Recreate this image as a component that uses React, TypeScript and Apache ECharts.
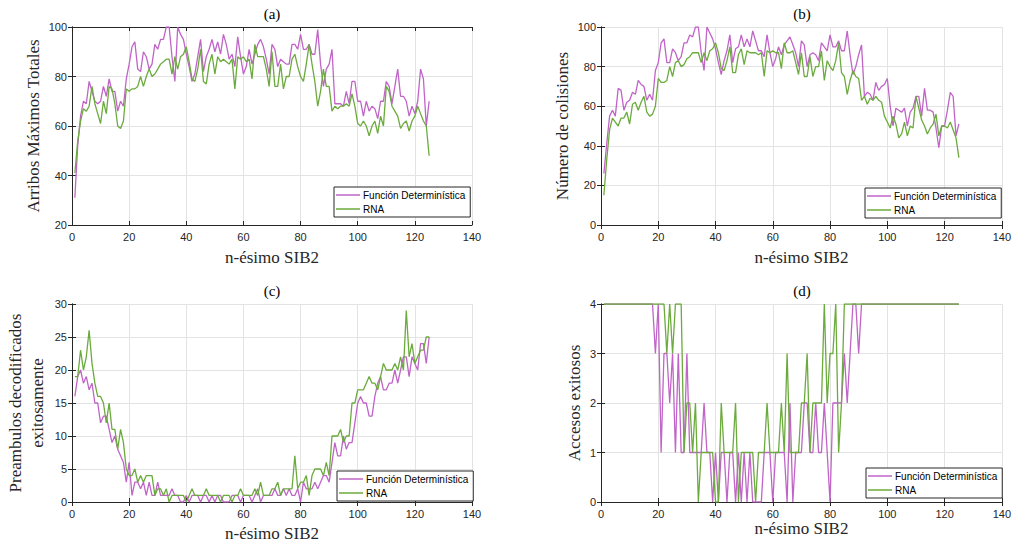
import React, { useEffect, useRef } from "react";
import * as echarts from "echarts";

// Sample index (n-ésimo SIB2)
const SAMPLES: number[] = Array.from({ length: 125 }, (_, i) => i + 1);

// (a) Arribos Máximos Totales
const A_DET = [31,52,64,70,69,78,74,70,69,70,76,72,79,74,74,66,70,68,79,85,92,94,83,82,90,88,83,85,93,91,95,95,100,100,88,78,100,97,95,89,84,78,81,88,95,82,88,91,95,90,94,89,97,93,87,89,84,96,88,81,84,91,85,89,93,95,92,87,81,93,91,84,87,86,85,85,93,93,91,97,91,91,93,89,89,99,85,76,83,85,91,69,69,69,68,74,69,78,78,70,70,64,70,66,68,67,63,70,70,78,76,69,76,83,72,72,70,64,68,65,70,83,79,60,70];
const A_RNA = [41,54,62,67,66,68,76,69,65,61,70,65,76,75,69,60,59,62,75,74,75,75,76,80,76,80,83,80,81,83,85,86,87,87,81,88,83,88,89,92,86,79,78,83,91,78,77,85,89,81,88,86,87,86,85,87,75,88,87,88,86,87,79,93,88,88,88,83,76,90,76,76,85,75,80,80,87,89,84,80,78,85,93,85,78,68,74,83,76,76,66,68,67,68,68,69,68,73,68,61,60,62,60,56,60,62,57,64,60,76,74,68,66,64,59,61,62,58,62,64,68,65,62,60,48];

// (b) Número de colisiones
const B_DET = [26,41,55,58,55,69,68,58,62,63,67,66,73,71,70,63,66,63,78,82,92,94,82,82,89,87,83,85,92,92,96,95,100,100,87,78,100,97,94,89,82,76,83,88,96,82,89,90,96,90,94,90,98,93,88,88,85,96,87,80,84,90,86,91,93,95,91,87,80,93,91,80,86,87,86,83,92,90,88,96,90,90,93,88,88,98,86,76,80,86,91,65,67,66,63,72,68,70,71,74,60,50,59,58,57,59,50,57,59,65,65,55,69,58,58,57,49,39,50,50,58,67,65,45,51];
const B_RNA = [15,33,48,54,52,50,54,54,57,51,61,62,58,62,65,57,55,56,60,74,72,72,73,80,75,82,83,80,81,84,85,87,87,87,82,87,83,88,89,92,87,79,78,83,90,77,77,86,89,81,88,87,87,87,86,87,75,88,87,88,87,87,79,92,87,87,88,82,76,87,75,75,85,75,80,80,88,73,83,80,78,83,92,77,75,66,73,78,75,74,63,65,61,64,63,65,63,62,55,52,49,55,51,44,46,52,45,50,49,65,59,53,50,46,49,51,56,45,50,50,49,52,48,44,34];

// (c) Preambulos decodificados exitosamente
const C_DET = [16,19,20,18,19,17,18,15,15,12,13,13,11,9,10,8,7,6,3,6,1,3,3,2,3,1,3,1,1,3,1,1,1,1,2,1,1,0,0,1,0,1,1,1,0,1,1,0,1,0,1,1,0,0,0,1,1,1,0,1,1,1,0,1,2,0,1,1,1,1,2,1,1,2,1,2,1,1,2,0,3,2,2,2,3,2,3,4,4,3,6,9,7,7,10,8,9,9,12,15,16,15,15,13,13,16,18,19,17,17,18,18,20,18,20,22,22,19,22,21,20,24,24,21,25];
const C_RNA = [19,19,23,20,22,26,21,18,16,16,15,12,15,11,11,8,11,9,5,4,4,5,3,4,3,4,4,4,1,2,2,1,2,0,1,1,1,1,1,0,1,2,1,1,1,1,2,1,1,1,1,0,1,1,1,0,1,1,2,1,1,1,1,2,1,3,1,1,1,2,2,3,1,2,2,2,2,7,2,3,3,4,1,4,5,5,5,4,6,4,10,10,10,11,9,10,10,15,15,17,17,17,18,19,18,18,17,19,21,20,20,20,21,20,22,20,29,22,24,21,22,23,23,25,25];

// (d) Accesos exitosos
const D_DET = [4,4,4,4,4,4,4,4,4,4,4,4,4,4,4,4,4,4,3,4,1,3,3,2,3,1,3,1,1,3,1,1,1,1,1,2,1,1,0,1,0,1,1,0,1,1,0,1,0,1,0,1,0,0,0,0,1,1,1,0,1,1,1,1,0,2,0,1,1,1,2,2,1,1,2,1,1,2,1,0,2,2,2,2,3,2,3,4,4,3,4,4,4,4,4,4,4,4,4,4,4,4,4,4,4,4,4,4,4,4,4,4,4,4,4,4,4,4,4,4,4,4,4,4,4];
const D_RNA = [4,4,4,4,4,4,4,4,4,4,4,4,4,4,4,4,4,4,4,4,4,4,3,4,3,4,4,4,1,2,2,1,2,0,1,1,1,1,1,0,0,2,1,1,1,1,2,0,1,1,1,1,1,0,1,1,1,2,1,1,1,1,2,1,3,1,1,1,1,2,2,3,1,2,2,2,2,4,2,3,3,4,1,2,4,4,4,4,4,4,4,4,4,4,4,4,4,4,4,4,4,4,4,4,4,4,4,4,4,4,4,4,4,4,4,4,4,4,4,4,4,4,4,4,4];

const X_TICKS = { min: 0, max: 140, interval: 20 };
const SERIES_NAMES = ["Función Determinística", "RNA"];
const PANEL_TITLES = ["(a)", "(b)", "(c)", "(d)"];
const Y_NAMES = [
  "Arribos Máximos Totales",
  "Número de colisiones",
  "Preambulos decodificados\nexitosamente",
  "Accesos exitosos",
];
const X_NAME = "n-ésimo SIB2";
const Y_RANGES = [
  { min: 20, max: 100, interval: 20 },
  { min: 0, max: 100, interval: 20 },
  { min: 0, max: 30, interval: 5 },
  { min: 0, max: 4, interval: 1 },
];

const PURPLE = "#C064C8";
const GREEN = "#6BAA3C";
const AXIS = "#262626";
const SANS = "'Liberation Sans', Arial, sans-serif";
const SERIF = "'Liberation Serif', 'Times New Roman', serif";

const GRIDS = [
  { left: 72, top: 27, width: 400, height: 198 },
  { left: 601, top: 27, width: 402, height: 198 },
  { left: 72, top: 304, width: 400, height: 198 },
  { left: 601, top: 304, width: 402, height: 198 },
];
const Y_NAME_GAPS = [28, 16, 24, 13];
const X_NAME_GAPS = [24, 24, 23, 18];
const LEGEND_POS = [
  { left: 334, top: 187 },
  { left: 865, top: 188 },
  { left: 337, top: 471 },
  { left: 866, top: 468 },
];

const pairs = (vals: number[]) => SAMPLES.map((x, i) => [x, vals[i]]);

export default function App() {
  const ref = useRef<HTMLDivElement>(null);

  useEffect(() => {
    if (!ref.current) return;
    const chart = echarts.init(ref.current, undefined, { renderer: "svg" });

    const panels = [
      [A_DET, A_RNA],
      [B_DET, B_RNA],
      [C_DET, C_RNA],
      [D_DET, D_RNA],
    ];

    const xAxis: any[] = [];
    const yAxis: any[] = [];
    const series: any[] = [];
    const legend: any[] = [];
    const graphic: any[] = [];

    GRIDS.forEach((g, k) => {
      // bottom / left axes with labels
      xAxis.push({
        type: "value",
        gridIndex: k,
        ...X_TICKS,
        position: "bottom",
        name: X_NAME,
        nameLocation: "middle",
        nameGap: X_NAME_GAPS[k],
        nameTextStyle: { fontFamily: SERIF, fontSize: 17, color: AXIS },
        axisLine: { show: true, lineStyle: { color: AXIS, width: 1 } },
        axisTick: { show: true, inside: true, length: 4, lineStyle: { color: AXIS } },
        axisLabel: { fontFamily: SANS, fontSize: 11, color: AXIS, margin: 6 },
        splitLine: { show: true, lineStyle: { color: "#E3E3E3", width: 1 } },
      });
      yAxis.push({
        type: "value",
        gridIndex: k,
        ...Y_RANGES[k],
        position: "left",
        name: Y_NAMES[k],
        nameLocation: "middle",
        nameRotate: 90,
        nameGap: Y_NAME_GAPS[k],
        nameTextStyle: { fontFamily: SERIF, fontSize: 17, color: AXIS, lineHeight: 22 },
        axisLine: { show: true, lineStyle: { color: AXIS, width: 1 } },
        axisTick: { show: true, inside: true, length: 4, lineStyle: { color: AXIS } },
        axisLabel: { fontFamily: SANS, fontSize: 11, color: AXIS, margin: 5 },
        splitLine: { show: true, lineStyle: { color: "#E3E3E3", width: 1 } },
      });
    });

    // top / right axes closing the box
    GRIDS.forEach((_, k) => {
      xAxis.push({
        type: "value",
        gridIndex: k,
        ...X_TICKS,
        position: "top",
        axisLine: { show: true, lineStyle: { color: AXIS, width: 1 } },
        axisTick: { show: true, inside: true, length: 4, lineStyle: { color: AXIS } },
        axisLabel: { show: false },
        splitLine: { show: false },
      });
      yAxis.push({
        type: "value",
        gridIndex: k,
        ...Y_RANGES[k],
        position: "right",
        axisLine: { show: true, lineStyle: { color: AXIS, width: 1 } },
        axisTick: { show: true, inside: true, length: 4, lineStyle: { color: AXIS } },
        axisLabel: { show: false },
        splitLine: { show: false },
      });
    });

    panels.forEach(([det, rna], k) => {
      series.push({
        name: SERIES_NAMES[0],
        type: "line",
        xAxisIndex: k,
        yAxisIndex: k,
        data: pairs(det),
        symbol: "none",
        showSymbol: false,
        lineStyle: { color: PURPLE, width: 1.3 },
        itemStyle: { color: PURPLE },
        z: 2,
      });
      series.push({
        name: SERIES_NAMES[1],
        type: "line",
        xAxisIndex: k,
        yAxisIndex: k,
        data: pairs(rna),
        symbol: "none",
        showSymbol: false,
        lineStyle: { color: GREEN, width: 1.3 },
        itemStyle: { color: GREEN },
        z: 3,
      });

      legend.push({
        data: SERIES_NAMES,
        orient: "vertical",
        left: LEGEND_POS[k].left,
        top: LEGEND_POS[k].top,
        padding: [2, 5, 2, 2],
        itemGap: 2,
        icon: "rect",
        itemWidth: 24,
        itemHeight: 1.5,
        backgroundColor: "#ffffff",
        borderColor: AXIS,
        borderWidth: 1,
        borderRadius: 0,
        selectedMode: false,
        textStyle: {
          fontFamily: SANS,
          fontSize: 10,
          color: "#000",
          lineHeight: 12,
          padding: [0, 0, 0, -2],
        },
      });

      const g = GRIDS[k];
      graphic.push({
        type: "text",
        x: g.left + g.width / 2,
        y: g.top - 13,
        style: {
          text: PANEL_TITLES[k],
          fontFamily: SERIF,
          fontSize: 15,
          fill: "#000",
          textAlign: "center",
          textVerticalAlign: "middle",
        },
      });
    });

    chart.setOption({
      animation: false,
      backgroundColor: "#ffffff",
      grid: GRIDS.map((g) => ({ ...g, containLabel: false })),
      xAxis,
      yAxis,
      series,
      legend,
      graphic,
    });

    return () => chart.dispose();
  }, []);

  return (
    <div
      ref={ref}
      style={{ position: "absolute", left: 0, top: 0, width: 1014, height: 547 }}
    />
  );
}
